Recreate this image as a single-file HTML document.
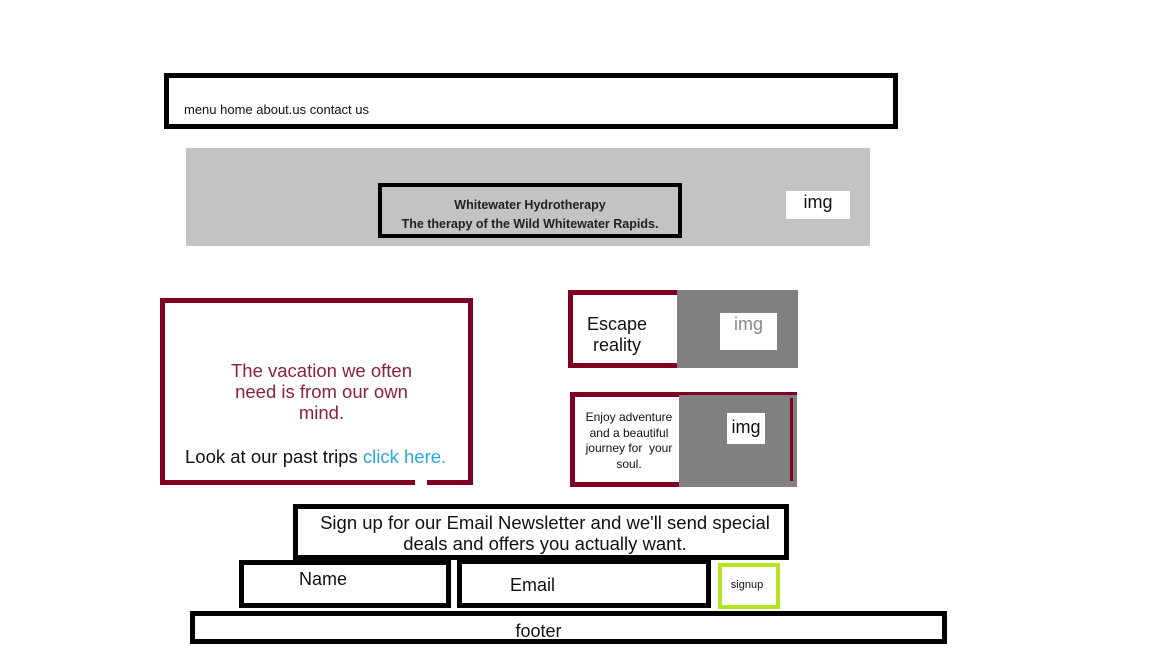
<!DOCTYPE html>
<html><head><meta charset="utf-8"><style>
body{margin:0;width:1152px;height:648px;background:#fff;position:relative;overflow:hidden;font-family:"Liberation Sans",sans-serif;}
div{position:absolute;box-sizing:border-box;}
.t{position:absolute;white-space:nowrap;}
</style></head><body>
<div style="left:164px;top:73px;width:734px;height:56px;border:5px solid #000;"></div>
<div class="t" style="left:184px;top:102px;font-size:13px;color:#111;">menu home about.us contact us</div>

<div style="left:186px;top:148px;width:684px;height:98px;background:#c3c3c3;"></div>
<div style="left:378px;top:183px;width:304px;height:55px;border:4px solid #000;"></div>
<div class="t" style="left:382px;width:296px;top:196px;text-align:center;font-size:12.5px;line-height:19px;font-weight:bold;color:#222;">Whitewater Hydrotherapy<br>The therapy of the Wild Whitewater Rapids.</div>
<div style="left:786px;top:191px;width:64px;height:28px;background:#fff;"></div>
<div class="t" style="left:786px;width:64px;text-align:center;top:192px;font-size:18px;color:#111;">img</div>

<div style="left:160px;top:298px;width:313px;height:187px;border:5px solid #7f0020;"></div>
<div style="left:415px;top:480px;width:12px;height:5px;background:#fff;"></div>
<div class="t" style="left:160px;width:323px;text-align:center;top:360px;font-size:18.5px;line-height:21px;color:#8b2235;">The vacation we often<br>need is from our own<br>mind.</div>
<div class="t" style="left:185px;top:446px;font-size:18.5px;color:#111;">Look at our past trips <span style="color:#2aa8db">click here.</span></div>

<div style="left:568px;top:290px;width:230px;height:78px;border:5px solid #7f0020;border-right:none;"></div>
<div style="left:677px;top:290px;width:121px;height:78px;background:#808080;"></div>
<div style="left:720px;top:313px;width:57px;height:37px;background:#fff;"></div>
<div class="t" style="left:720px;width:57px;text-align:center;top:314px;font-size:18px;color:#888;">img</div>
<div class="t" style="left:565px;width:104px;text-align:center;top:314px;font-size:18px;line-height:21px;color:#111;">Escape<br>reality</div>

<div style="left:570px;top:392px;width:227px;height:95px;border:5px solid #7f0020;border-right:none;"></div>
<div style="left:679px;top:395px;width:118px;height:92px;background:#808080;"></div>
<div style="left:790px;top:398px;width:3px;height:83px;background:#7f0020;"></div>
<div style="left:727px;top:413px;width:38px;height:31px;background:#fff;"></div>
<div class="t" style="left:727px;width:38px;text-align:center;top:417px;font-size:18px;color:#111;">img</div>
<div class="t" style="left:577px;width:104px;text-align:center;top:410px;font-size:12px;line-height:15.5px;color:#111;">Enjoy adventure<br>and a beautiful<br>journey for &nbsp;your<br>soul.</div>

<div style="left:293px;top:504px;width:496px;height:56px;border:5px solid #000;"></div>
<div class="t" style="left:293px;width:504px;text-align:center;top:512px;font-size:18.5px;line-height:21px;color:#111;">Sign up for our Email Newsletter and we'll send special<br>deals and offers you actually want.</div>

<div style="left:239px;top:560px;width:212px;height:48px;border:5px solid #000;"></div>
<div class="t" style="left:299px;top:569px;font-size:18px;color:#111;">Name</div>
<div style="left:457px;top:559px;width:254px;height:49px;border:5px solid #000;"></div>
<div class="t" style="left:510px;top:575px;font-size:18px;color:#111;">Email</div>
<div style="left:718px;top:563px;width:62px;height:46px;border:4px solid #b5e61d;"></div>
<div class="t" style="left:718px;width:58px;text-align:center;top:579px;font-size:11px;color:#111;">signup</div>

<div style="left:190px;top:611px;width:757px;height:33px;border:5px solid #000;"></div>
<div class="t" style="left:190px;width:697px;text-align:center;top:621px;font-size:18px;color:#111;">footer</div>
</body></html>
